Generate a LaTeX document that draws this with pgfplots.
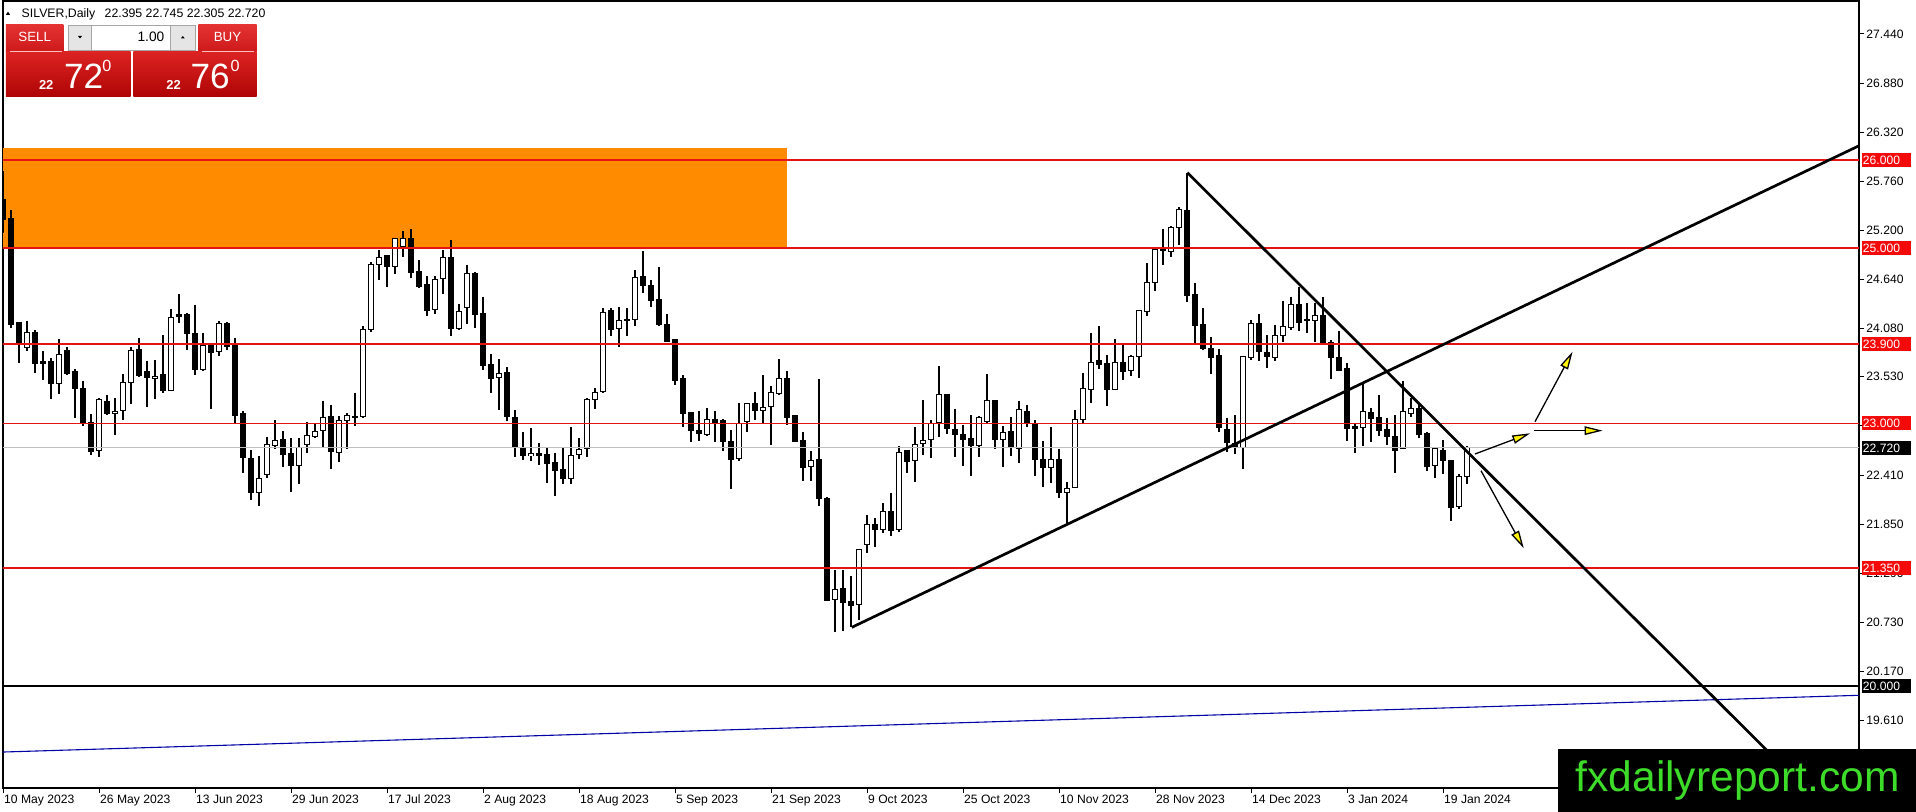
\documentclass[border=0pt]{standalone}
\usepackage{fontspec}
\setmainfont{Liberation Sans}
\usepackage{pgfplots}
\pgfplotsset{compat=1.18}
\usepackage{pgfplotstable}
\usetikzlibrary{arrows.meta}
\definecolor{mtred}{RGB}{228,20,20}
\definecolor{lblred}{RGB}{245,10,10}
\definecolor{zone}{RGB}{255,140,0}
\definecolor{trendblue}{RGB}{0,0,165}
\definecolor{logogreen}{RGB}{60,220,40}
\definecolor{bidgray}{RGB}{190,190,190}
\definecolor{btntop}{RGB}{228,50,50}
\definecolor{btnbot}{RGB}{205,25,25}
\definecolor{bigtop}{RGB}{220,35,35}
\definecolor{bigbot}{RGB}{175,5,5}

\pgfplotstableread{
i O H L C
0 25.553 25.876 25.172 25.324
1 25.335 25.427 24.086 24.124
2 24.151 24.155 23.686 23.907
3 23.869 24.162 23.819 24.040
4 24.040 24.067 23.579 23.686
5 23.701 23.827 23.488 23.686
6 23.701 23.743 23.274 23.457
7 23.457 23.960 23.335 23.789
8 23.827 23.873 23.553 23.564
9 23.591 23.621 23.057 23.396
10 23.400 23.484 22.970 23.000
11 23.008 23.103 22.638 22.676
12 22.688 23.286 22.619 23.267
13 23.252 23.317 23.095 23.107
14 23.111 23.286 22.867 23.137
15 23.149 23.564 23.038 23.469
16 23.469 23.869 23.221 23.827
17 23.838 23.972 23.533 23.541
18 23.591 23.716 23.191 23.522
19 23.511 23.724 23.282 23.537
20 23.553 24.010 23.351 23.374
21 23.377 24.307 23.377 24.212
22 24.238 24.478 24.143 24.223
23 24.238 24.257 23.838 24.029
24 24.029 24.345 23.553 23.610
25 23.610 24.029 23.591 23.884
26 23.884 23.895 23.164 23.812
27 23.819 24.162 23.770 24.135
28 24.143 24.150 23.838 23.876
29 23.903 23.972 23.008 23.084
30 23.107 23.141 22.436 22.608
31 22.600 22.695 22.124 22.208
32 22.208 22.627 22.055 22.372
33 22.417 22.840 22.372 22.753
34 22.749 23.038 22.703 22.806
35 22.817 22.912 22.505 22.646
36 22.657 22.829 22.219 22.513
37 22.513 22.829 22.303 22.726
38 22.753 23.019 22.657 22.863
39 22.855 23.008 22.829 22.905
40 22.913 23.256 22.726 23.069
41 23.076 23.206 22.475 22.676
42 22.669 23.088 22.562 23.031
43 23.034 23.114 22.703 23.088
44 23.080 23.343 22.970 23.065
45 23.076 24.105 23.057 24.074
46 24.067 24.840 24.036 24.810
47 24.806 24.981 24.631 24.886
48 24.913 24.913 24.551 24.791
49 24.791 25.115 24.707 25.107
50 25.019 25.191 24.894 25.103
51 25.103 25.221 24.657 24.714
52 24.726 24.867 24.543 24.562
53 24.581 24.676 24.219 24.288
54 24.303 24.684 24.246 24.638
55 24.646 24.981 24.474 24.886
56 24.886 25.095 23.991 24.086
57 24.086 24.364 24.067 24.276
58 24.315 24.802 24.135 24.703
59 24.703 24.726 24.086 24.246
60 24.257 24.440 23.602 23.659
61 23.674 23.789 23.351 23.515
62 23.522 23.735 23.153 23.572
63 23.583 23.640 23.027 23.076
64 23.069 23.153 22.612 22.722
65 22.726 22.897 22.581 22.627
66 22.627 22.943 22.574 22.657
67 22.657 22.779 22.524 22.634
68 22.646 22.714 22.315 22.543
69 22.555 22.657 22.173 22.459
70 22.474 22.726 22.307 22.372
71 22.372 22.962 22.303 22.638
72 22.646 22.829 22.589 22.703
73 22.714 23.286 22.619 23.267
74 23.274 23.400 23.160 23.355
75 23.362 24.315 23.343 24.269
76 24.284 24.315 23.999 24.075
77 24.086 24.326 23.869 24.170
78 24.181 24.315 23.999 24.174
79 24.189 24.753 24.113 24.658
80 24.669 24.970 24.486 24.570
81 24.570 24.639 24.322 24.402
82 24.410 24.780 24.105 24.124
83 24.132 24.250 23.922 23.934
84 23.953 23.960 23.439 23.488
85 23.507 23.553 22.962 23.115
86 23.126 23.134 22.791 22.917
87 22.913 23.141 22.802 22.882
88 22.871 23.172 22.860 23.039
89 23.039 23.141 22.783 23.008
90 23.027 23.046 22.688 22.791
91 22.787 22.924 22.246 22.585
92 22.597 23.229 22.574 22.993
93 23.020 23.229 22.905 23.221
94 23.221 23.355 23.039 23.145
95 23.149 23.553 23.000 23.183
96 23.191 23.427 22.753 23.355
97 23.343 23.732 23.324 23.515
98 23.507 23.599 22.981 23.065
99 23.084 23.096 22.783 22.791
100 22.799 22.905 22.345 22.494
101 22.505 22.684 22.345 22.581
102 22.589 23.503 22.056 22.143
103 22.143 22.155 20.974 20.981
104 20.989 21.332 20.620 21.103
105 21.115 21.332 20.630 20.951
106 20.970 21.256 20.677 20.917
107 20.932 21.572 20.753 21.560
108 21.618 21.953 21.523 21.846
109 21.850 21.915 21.591 21.789
110 21.789 22.086 21.751 21.999
111 21.999 22.200 21.713 21.781
112 21.789 22.745 21.762 22.669
113 22.695 22.695 22.436 22.562
114 22.581 22.962 22.334 22.760
115 22.772 23.267 22.638 22.806
116 22.817 23.038 22.600 23.000
117 23.008 23.648 22.840 23.332
118 23.324 23.324 22.878 22.943
119 22.932 23.160 22.619 22.874
120 22.874 22.981 22.516 22.817
121 22.829 23.095 22.402 22.745
122 22.745 23.084 22.619 23.069
123 23.019 23.564 23.008 23.256
124 23.259 23.267 22.707 22.817
125 22.810 22.970 22.505 22.897
126 22.912 23.069 22.627 22.722
127 22.714 23.255 22.551 23.160
128 23.134 23.210 22.954 22.993
129 22.993 23.038 22.398 22.589
130 22.589 22.798 22.269 22.497
131 22.497 22.962 22.322 22.589
132 22.589 22.707 22.143 22.212
133 22.212 22.326 21.850 22.257
134 22.265 23.153 22.257 23.046
135 23.046 23.572 22.993 23.400
136 23.389 24.029 23.236 23.697
137 23.713 24.105 23.621 23.675
138 23.686 23.781 23.198 23.389
139 23.389 23.960 23.389 23.697
140 23.697 23.895 23.495 23.591
141 23.598 23.774 23.541 23.762
142 23.762 24.295 23.515 24.288
143 24.276 24.829 24.219 24.600
144 24.600 24.989 24.505 24.981
145 24.996 25.210 24.810 24.974
146 24.962 25.248 24.894 25.229
147 25.236 25.469 25.038 25.438
148 25.427 25.857 24.383 24.459
149 24.467 24.600 23.914 24.116
150 24.124 24.314 23.838 23.850
151 23.850 23.983 23.560 23.754
152 23.770 23.850 22.905 22.951
153 22.924 23.057 22.676 22.779
154 22.772 23.095 22.650 22.726
155 22.726 23.762 22.474 23.762
156 23.751 24.173 23.724 24.135
157 24.143 24.250 23.712 23.819
158 23.812 24.010 23.629 23.762
159 23.754 24.124 23.716 24.002
160 24.002 24.391 23.922 24.105
161 24.097 24.436 24.067 24.360
162 24.360 24.554 24.055 24.151
163 24.189 24.371 24.029 24.174
164 24.174 24.371 23.922 24.231
165 24.227 24.440 23.914 23.922
166 23.922 23.952 23.503 23.754
167 23.754 24.055 23.591 23.602
168 23.629 23.686 22.802 22.943
169 22.962 23.008 22.657 22.943
170 22.954 23.450 22.741 23.137
171 23.126 23.172 22.791 23.057
172 23.069 23.324 22.859 22.916
173 22.924 23.057 22.753 22.848
174 22.855 23.095 22.436 22.695
175 22.707 23.484 22.707 23.137
176 23.115 23.286 23.069 23.172
177 23.172 23.210 22.829 22.874
178 22.878 22.905 22.459 22.505
179 22.513 22.733 22.379 22.707
180 22.695 22.810 22.421 22.573
181 22.573 22.581 21.888 22.036
182 22.048 22.421 22.017 22.398
183 22.395 22.745 22.305 22.720
}\candles

\newcommand{\lblfont}{\fontsize{3.45}{4}\selectfont}
\pgfplotsset{candle/.style={only marks, mark=none, mark size=0pt,
  mark options={draw=none, fill=none}, forget plot}}

\begin{document}
\begin{tikzpicture}[x=1cm,y=1cm]
\useasboundingbox (0,0) rectangle (19.16,8.12);
\fill[white] (0,0) rectangle (19.16,8.12);
\begin{axis}[
  at={(0.03cm,0.24cm)}, anchor=south west,
  scale only axis, width=18.56cm, height=7.87cm,
  xmin=0, xmax=232, ymin=18.841, ymax=27.816,
  axis line style={black, line width=0.012cm},
  tick style={black, line width=0.01cm},
  major tick length=0.05cm,
  tick align=outside,
  xtick pos=bottom, ytick pos=right,
  yticklabel pos=right,
  xtick={0,12,...,180},
  xticklabels={10 May 2023, 26 May 2023, 13 Jun 2023, 29 Jun 2023, 17 Jul 2023, 2 Aug 2023, 18 Aug 2023, 5 Sep 2023, 21 Sep 2023, 9 Oct 2023, 25 Oct 2023, 10 Nov 2023, 28 Nov 2023, 14 Dec 2023, 3 Jan 2024, 19 Jan 2024},
  xticklabel style={anchor=north west, inner sep=0pt, text height=0.085cm, text depth=0.02cm, xshift=0.005cm, yshift=-0.017cm, font=\lblfont},
  ytick={27.44,26.88,26.32,25.76,25.20,24.64,24.08,23.53,22.97,22.41,21.85,21.29,20.73,20.17,19.61},
  yticklabels={27.440,26.880,26.320,25.760,25.200,24.640,24.080,23.530,22.970,22.410,21.850,21.290,20.730,20.170,19.610},
  yticklabel style={anchor=west, inner sep=0pt, xshift=0.017cm, font=\lblfont},
  clip=true,
]
% supply zone
\addplot[fill=zone, draw=none] coordinates {(-2,25.0) (98,25.0) (98,26.136) (-2,26.136)};
% wicks
\addplot[candle,
  error bars/.cd, y dir=both, y explicit, error mark=none,
  error bar style={draw=black, line width=0.011cm, line cap=butt}]
  table[x=i, y expr={0.5*(\thisrow{H}+\thisrow{L})}, y error expr={0.5*(\thisrow{H}-\thisrow{L})}] {\candles};
% bodies (outline / black)
\addplot[candle,
  error bars/.cd, y dir=both, y explicit, error mark=none,
  error bar style={draw=black, line width=0.055cm, line cap=butt}]
  table[x=i, y expr={0.5*(\thisrow{O}+\thisrow{C})}, y error expr={0.5*abs(\thisrow{C}-\thisrow{O})+0.0057}] {\candles};
% white bodies
\addplot[candle,
  restrict expr to domain={\thisrow{C}-\thisrow{O}}{0.02:100},
  error bars/.cd, y dir=both, y explicit, error mark=none,
  error bar style={draw=white, line width=0.035cm, line cap=butt}]
  table[x=i, y expr={0.5*(\thisrow{O}+\thisrow{C})}, y error expr={0.5*(\thisrow{C}-\thisrow{O})-0.0057}] {\candles};
% horizontal levels
\addplot[mtred, line width=0.018cm] coordinates {(-1,26.0) (233,26.0)};
\addplot[mtred, line width=0.018cm] coordinates {(-1,25.0) (233,25.0)};
\addplot[mtred, line width=0.018cm] coordinates {(-1,23.9) (233,23.9)};
\addplot[mtred, line width=0.011cm] coordinates {(-1,23.0) (233,23.0)};
\addplot[mtred, line width=0.018cm] coordinates {(-1,21.35) (233,21.35)};
\addplot[bidgray, line width=0.01cm] coordinates {(-1,22.72) (233,22.72)};
\addplot[black, line width=0.02cm] coordinates {(-1,20.0) (233,20.0)};
\addplot[trendblue, line width=0.011cm] coordinates {(0,19.251) (232,19.898)};
% trend lines
\addplot[black, line width=0.027cm] coordinates {(106.1,20.673) (232,26.165)};
\addplot[black, line width=0.027cm] coordinates {(148.04,25.858) (235,17.95)};
% arrows
\addplot[black, line width=0.013cm, -{Triangle[length=0.18cm, width=0.085cm, fill=yellow]}] coordinates {(184.0,22.650) (190.9,22.886)};
\addplot[black, line width=0.013cm, -{Triangle[length=0.18cm, width=0.085cm, fill=yellow]}] coordinates {(191.4,22.916) (199.96,22.916)};
\addplot[black, line width=0.013cm, -{Triangle[length=0.18cm, width=0.085cm, fill=yellow]}] coordinates {(191.5,23.018) (196.2,23.817)};
\addplot[black, line width=0.013cm, -{Triangle[length=0.18cm, width=0.085cm, fill=yellow]}] coordinates {(184.75,22.459) (190.1,21.574)};
% anchors for price labels
\coordinate (p26) at (axis cs:232,26.0);
\coordinate (p25) at (axis cs:232,25.0);
\coordinate (p239) at (axis cs:232,23.9);
\coordinate (p23) at (axis cs:232,23.0);
\coordinate (p2272) at (axis cs:232,22.72);
\coordinate (p2135) at (axis cs:232,21.35);
\coordinate (p20) at (axis cs:232,20.0);
\end{axis}
% price labels on the right scale
\foreach \c/\t/\col in {p26/26.000/lblred, p25/25.000/lblred, p239/23.900/lblred, p23/23.000/lblred, p2135/21.350/lblred, p2272/22.720/black, p20/20.000/black}{
  \node[fill=\col, text=white, anchor=west, inner xsep=0.012cm, inner ysep=0pt, minimum height=0.14cm, text width=0.465cm, align=left, font=\lblfont, xshift=0.02cm] at (\c) {\t};
}
% header
\fill[black] (0.06,7.972) -- (0.10,7.972) -- (0.08,8.004) -- cycle;
\node[anchor=base west, inner sep=0pt, font=\fontsize{3.5}{4}\selectfont] at (0.21,7.947) {SILVER,Daily\hspace{0.06cm} 22.395 22.745 22.305 22.720};
% one-click trading panel
\shade[top color=btntop, bottom color=btnbot] (0.06,7.87) rectangle (0.633,7.603);
\shade[top color=btntop, bottom color=btnbot] (1.983,7.87) rectangle (2.567,7.603);
\shade[top color=bigtop, bottom color=bigbot] (0.06,7.603) rectangle (1.307,7.153);
\shade[top color=bigtop, bottom color=bigbot] (1.333,7.603) rectangle (2.567,7.153);
\draw[white!75!red, line width=0.008cm] (0.10,7.603) -- (0.617,7.603);
\draw[white!75!red, line width=0.008cm] (2.02,7.603) -- (2.54,7.603);
\filldraw[fill=black!10, draw=black!35, line width=0.008cm] (0.683,7.87) rectangle (0.917,7.62);
\filldraw[fill=white, draw=black!35, line width=0.008cm] (0.917,7.87) rectangle (1.707,7.62);
\filldraw[fill=black!10, draw=black!35, line width=0.008cm] (1.707,7.87) rectangle (1.95,7.62);
\fill[black] (0.78,7.76) -- (0.82,7.76) -- (0.80,7.735) -- cycle;
\fill[black] (1.808,7.735) -- (1.848,7.735) -- (1.828,7.76) -- cycle;
\node[anchor=base east, inner sep=0pt, font=\fontsize{3.9}{4.5}\selectfont] at (1.65,7.70) {1.00};
\node[anchor=base, inner sep=0pt, text=white, font=\fontsize{3.8}{4.5}\selectfont] at (0.347,7.70) {SELL};
\node[anchor=base, inner sep=0pt, text=white, font=\fontsize{3.8}{4.5}\selectfont] at (2.275,7.70) {BUY};
\node[anchor=base west, inner sep=0pt, text=white, font=\fontsize{3.7}{4.5}\selectfont\bfseries] at (0.383,7.227) {22};
\node[anchor=base west, inner sep=0pt, text=white, font=\fontsize{10}{11}\selectfont] at (0.633,7.232) {72};
\node[anchor=base west, inner sep=0pt, text=white, font=\fontsize{4.6}{5}\selectfont] at (1.017,7.403) {0};
\node[anchor=base west, inner sep=0pt, text=white, font=\fontsize{3.7}{4.5}\selectfont\bfseries] at (1.657,7.227) {22};
\node[anchor=base west, inner sep=0pt, text=white, font=\fontsize{10}{11}\selectfont] at (1.90,7.232) {76};
\node[anchor=base west, inner sep=0pt, text=white, font=\fontsize{4.6}{5}\selectfont] at (2.30,7.403) {0};
% logo
\fill[black] (15.58,0) rectangle (19.16,0.63);
\node[anchor=base west, inner sep=0pt, text=logogreen, font=\fontsize{12.1}{14}\selectfont] at (15.75,0.20) {fxdailyreport.com};
\end{tikzpicture}
\end{document}
